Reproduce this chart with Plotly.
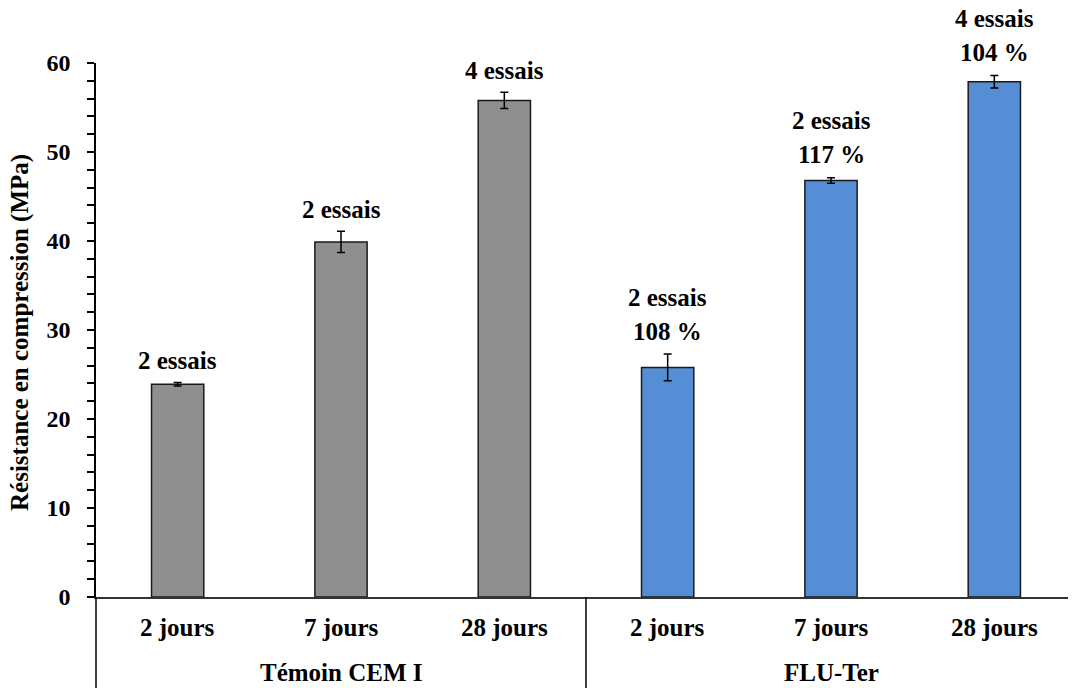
import plotly.graph_objects as go

groups = ["Témoin CEM I"] * 3 + ["FLU-Ter"] * 3
ages = ["2 jours", "7 jours", "28 jours"] * 2
group_names = ["Témoin CEM I", "FLU-Ter"]
values = [23.9, 39.9, 55.8, 25.8, 46.8, 57.9]
errors = [0.2, 1.2, 0.9, 1.5, 0.3, 0.7]
line1 = ["2 essais", "2 essais", "4 essais", "2 essais", "2 essais", "4 essais"]
line2 = ["", "", "", "108 %", "117 %", "104 %"]
colors = ["#8f8f8f"] * 3 + ["#558ed5"] * 3

FONT = "Liberation Serif, Times New Roman, serif"
H_PLOT = 534.0
W_PLOT = 980.0

fig = go.Figure()
fig.add_trace(go.Bar(
    x=[groups, ages], y=values,
    marker=dict(color=colors, line=dict(color="#1a1a1a", width=1.5)),
    width=0.32,
    error_y=dict(type="data", array=errors, visible=True, color="black",
                 thickness=1.5, width=4),
    cliponaxis=False,
))

# labels above bars
for g, a, v, e, t1, t2 in zip(groups, ages, values, errors, line1, line2):
    top = v + e
    if t2:
        fig.add_annotation(x=[g, a], y=top, text="<b>%s</b>" % t2, showarrow=False,
                           yanchor="middle", yshift=23,
                           font=dict(family=FONT, size=25, color="black"))
        fig.add_annotation(x=[g, a], y=top, text="<b>%s</b>" % t1, showarrow=False,
                           yanchor="middle", yshift=57,
                           font=dict(family=FONT, size=25, color="black"))
    else:
        fig.add_annotation(x=[g, a], y=top, text="<b>%s</b>" % t1, showarrow=False,
                           yanchor="middle", yshift=22,
                           font=dict(family=FONT, size=25, color="black"))

# category labels (level 1)
for g, a in zip(groups, ages):
    fig.add_annotation(x=[g, a], y=-30 / H_PLOT, yref="paper", text="<b>%s</b>" % a,
                       showarrow=False, yanchor="middle",
                       font=dict(family=FONT, size=25, color="black"))
# group labels (level 2)
for g in group_names:
    fig.add_annotation(x=[g, "7 jours"], y=-75 / H_PLOT, yref="paper", text="<b>%s</b>" % g,
                       showarrow=False, yanchor="middle",
                       font=dict(family=FONT, size=25, color="black"))

# dividers
for xp in [0.0, 0.5]:
    fig.add_shape(type="line", xref="paper", yref="paper", x0=xp, x1=xp,
                  y0=0, y1=-91 / H_PLOT, line=dict(color="black", width=1.5))

# y-axis title
fig.add_annotation(xref="paper", yref="paper", x=-76 / W_PLOT, y=(597 - 333) / H_PLOT,
                   text="<b>Résistance en compression (MPa)</b>", textangle=-90,
                   showarrow=False, xanchor="center", yanchor="middle",
                   font=dict(family=FONT, size=25, color="black"))

fig.update_layout(
    width=1068, height=680,
    margin=dict(l=88, r=0, t=55, b=91),
    paper_bgcolor="white", plot_bgcolor="white",
    showlegend=False,
    font=dict(family=FONT, size=24, color="black"),
)
fig.update_xaxes(
    type="multicategory",
    showline=True, linecolor="#333333", linewidth=1.5,
    ticks="", showgrid=False, showticklabels=False, showdividers=False,
    automargin=False,
)
fig.update_yaxes(
    range=[0, 60], dtick=10,
    showline=True, linecolor="black", linewidth=1.5,
    ticks="outside", ticklen=7, tickwidth=1.5, tickcolor="black",
    minor=dict(dtick=2, ticks="outside", ticklen=7, tickwidth=1.5, tickcolor="black", showgrid=False),
    showgrid=False, zeroline=False, automargin=False,
    ticklabelstandoff=12,
    tickfont=dict(family=FONT, size=24, color="black", weight="bold"),
)

fig.write_html("out.html")
